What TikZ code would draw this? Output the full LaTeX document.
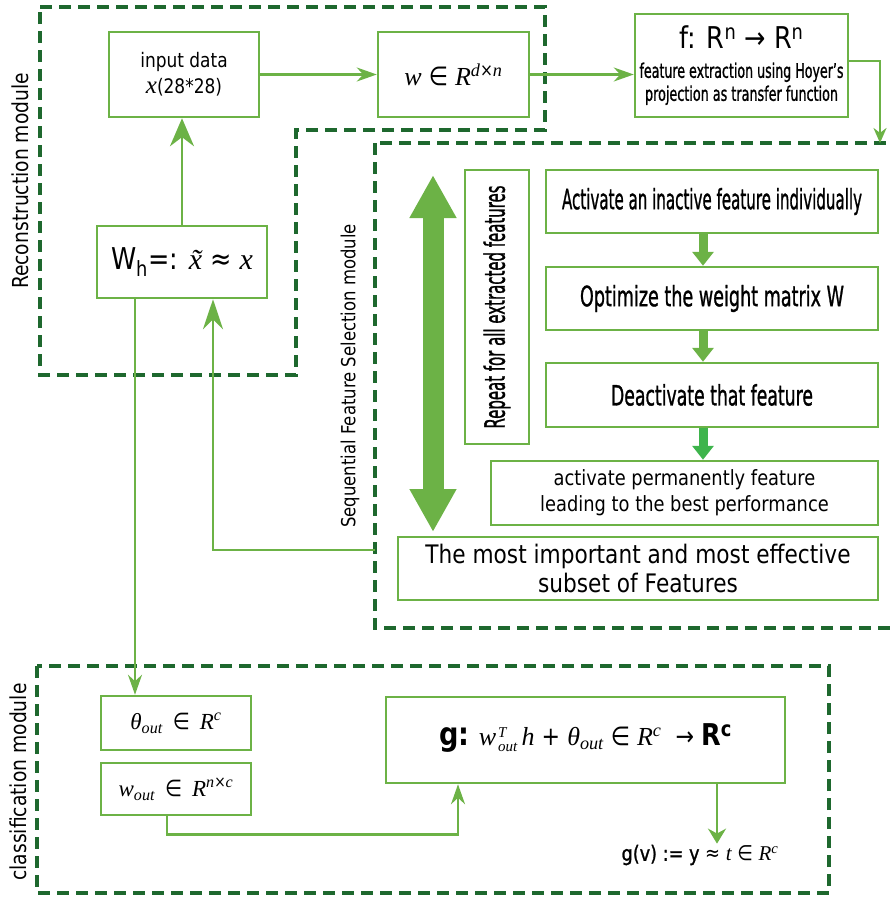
\documentclass[tikz,border=0pt]{standalone}
\usepackage{fontspec}
\setmainfont{DejaVu Sans}[FakeStretch=0.85]
\newfontfamily\varfont{Liberation Serif}
\newfontfamily\condfont{DejaVu Sans}[FakeBold=1.3]
\usepackage{tikz}
\usetikzlibrary{arrows.meta}

\definecolor{boxgreen}{RGB}{108,178,70}
\definecolor{darkgreen}{RGB}{30,104,46}
\definecolor{brightgreen}{RGB}{62,180,76}
\newcommand{\squeeze}[2]{\resizebox{#1}{\height}{\condfont #2}}
\newcommand{\var}[1]{{\varfont\itshape #1}}

\begin{document}
\begin{tikzpicture}[x=1pt,y=-1pt,>={Stealth[length=20pt,width=14pt]},
   box/.style={draw=boxgreen,line width=2.5pt,fill=white,align=center,inner sep=2pt},
   module/.style={draw=darkgreen,line width=3.5pt,dash pattern=on 12pt off 7pt},
   link/.style={draw=boxgreen,line width=2.5pt,->},
   fat/.style={draw=boxgreen,line width=9pt,-{Triangle[length=14pt,width=21pt]}},
   modname/.style={rotate=90,font=\fontsize{22}{26}\selectfont},
   narrow/.style={font=\fontsize{28}{32}\selectfont}]
   \useasboundingbox (0,0) rectangle (893,897);

   % modules
   \draw [module] (40,7) -- (545,7) -- (545,130) -- (296,130) -- (296,375) -- (40,375) -- cycle;
   \draw [module] (375,143) rectangle (896,628);
   \draw [module] (37,666) rectangle (829,893);
   \node [modname] (recname) at (20,181) {Reconstruction module};
   \node [modname,font=\fontsize{19.4}{23}\selectfont] (sfsname) at (350,376) {Sequential Feature Selection module};
   \node [modname] (clsname) at (18,782) {classification module};

   % reconstruction
   \node [box,minimum width=150,minimum height=85,font=\fontsize{20}{24}\selectfont] (inp) at (184,74.5)
      {input data\\[2pt]{\fontsize{25}{24}\selectfont\var{x}}(28*28)};
   \node [box,minimum width=151,minimum height=85,font=\fontsize{26}{30}\selectfont] (w) at (453.5,74.5)
      {\var{w} ∈ \var{R}\textsuperscript{\var{d}×\var{n}}};
   \node [box,minimum width=213,minimum height=103,font=\fontsize{20}{23}\selectfont] (f) at (741.5,65.5)
      {{\fontsize{30}{32}\selectfont f: R\textsuperscript{n} → R\textsuperscript{n}}\\[6pt]
       \squeeze{204pt}{feature extraction using Hoyer’s}\\
       \squeeze{193pt}{projection as transfer function}};
   \node [box,minimum width=170,minimum height=72,font=\fontsize{30}{32}\selectfont] (wh) at (182,262)
      {W\textsubscript{h}=: \var{\~{x}} ≈ \var{x}};

   % sequential feature selection
   \coordinate (up) at (433,175);
   \coordinate (down) at (433,532);
   \draw [boxgreen,line width=21pt,{Triangle[length=43pt,width=44pt]}-{Triangle[length=43pt,width=44pt]}] (up) -- (down);
   \node [box,narrow,rotate=90,minimum width=274,minimum height=64] (rep) at (497,307) {\squeeze{243pt}{Repeat for all extracted features}};
   \node [box,narrow,minimum width=332,minimum height=63] (act) at (712,201.5) {\squeeze{300pt}{Activate an inactive feature individually}};
   \node [box,narrow,minimum width=332,minimum height=63] (opt) at (712,298.5) {\squeeze{264pt}{Optimize the weight matrix W}};
   \node [box,narrow,minimum width=332,minimum height=64] (deact) at (712,395) {\squeeze{202pt}{Deactivate that feature}};
   \node [box,minimum width=387,minimum height=64,font=\fontsize{21}{26}\selectfont] (perm) at (684.5,493) {activate permanently feature\\leading to the best performance};
   \node [box,minimum width=480,minimum height=63,font=\fontsize{25.5}{29}\selectfont] (best) at (638,568.5) {The most important and most effective\\subset of Features};

   \draw [fat] ([xshift=-9pt]act.south) -- ([xshift=-9pt]opt.north);
   \draw [fat] ([xshift=-9pt]opt.south) -- ([xshift=-9pt]deact.north);
   \draw [fat,brightgreen] ([xshift=-9pt]deact.south) -- ([xshift=-9pt]deact.south |- perm.north);

   % classification
   \node [box,minimum width=150,minimum height=54,font=\fontsize{23}{26}\selectfont] (theta) at (176,723)
      {\var{θ}\textsubscript{\var{out}} \,∈\, \var{R}\textsuperscript{\var{c}}};
   \node [box,minimum width=150,minimum height=52,font=\fontsize{23}{26}\selectfont] (wout) at (176,789)
      {\var{w}\textsubscript{\var{out}} \,∈\, \var{R}\textsuperscript{\var{n}×\var{c}}};
   \node [box,minimum width=399,minimum height=86,font=\fontsize{26}{30}\selectfont] (g) at (585.5,740)
      {{\fontsize{32}{32}\selectfont\bfseries g:} \var{w}\kern2pt{\fontsize{15}{15}\selectfont\begin{tabular}[c]{@{}l@{}}\var{T}\\[-1pt]\var{out}\end{tabular}}\,\var{h} + \var{θ}\textsubscript{\var{out}} ∈ \var{R}\textsuperscript{\var{c}} \ → {\fontsize{30}{32}\selectfont\bfseries R\textsuperscript{c}}};
   \node [inner sep=1pt,font=\fontsize{21}{24}\selectfont] (gv) at (700,855)
      {\squeeze{78pt}{g(v) := y} ≈ \var{t} ∈ \var{R}\textsuperscript{\var{c}}};

   % connectors
   \coordinate (sfstop) at (880,143);
   \coordinate (back) at (375,550);
   \draw [link] (inp) -- (w);
   \draw [link] (w.east) -- (w.east -| f.west);
   \draw [link,-{Stealth[length=15pt,width=13pt]}] ([yshift=4.5pt]f.east) -| (sfstop);
   \draw [link,-{Stealth[length=28pt,width=24pt]}] (wh.north) -- (wh.north |- inp.south);
   \draw [link] ([xshift=-47pt]wh.south) -- ([xshift=-47pt]wh.south |- theta.north);
   \draw [link,-{Stealth[length=30pt,width=20pt]}] (back) -| ([xshift=31pt]wh.south);
   \draw [link] ([xshift=-9pt]wout.south) -- ++(0,18) -| ([xshift=-127.5pt]g.south);
   \draw [link,-{Stealth[length=15pt,width=18pt]}] ([xshift=131.5pt]g.south) -- ([xshift=131.5pt]g.south |- gv.north);
\end{tikzpicture}
\end{document}
